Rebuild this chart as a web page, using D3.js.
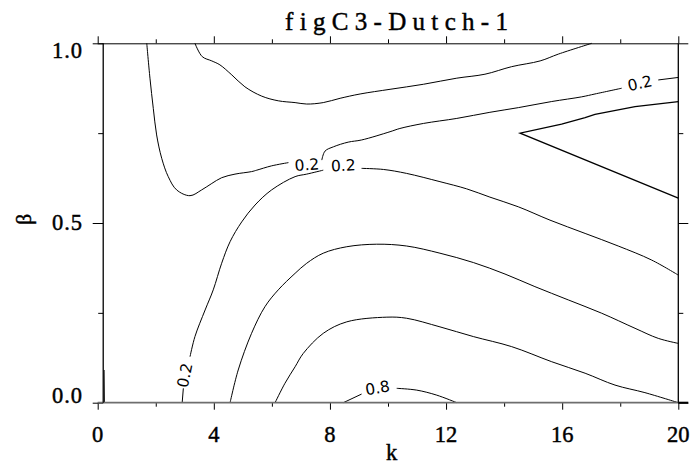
<!DOCTYPE html>
<html>
<head>
<meta charset="utf-8">
<script src="https://cdn.jsdelivr.net/npm/d3@7/dist/d3.min.js"></script>
<style>
  body { margin: 0; background: #fff; }
  svg { display: block; }
  text { font-variant-ligatures: none; }
  .serif { font-family: 'Liberation Serif'; stroke: #000; stroke-width: 0.45px; }
</style>
</head>
<body>
<svg id="chart" width="693" height="474"></svg>
<script>
// ---- axis ticks and labels ----
const kTicksMajor = [0, 4, 8, 12, 16, 20];
const kTicksMinor = [2, 6, 10, 14, 18];
const kTickLabels = ["0", "4", "8", "12", "16", "20"];
const betaTicksMajor = [0, 0.5, 1.0];
const betaTicksMinor = [0.25, 0.75];
const betaTickLabels = ["0.0", "0.5", "1.0"];
const kFrame = 0.19;            // left edge of the computed grid in k

// ---- contour polylines, points are [k, beta] ----
const contourA1 = [[1.69,1.0],[1.80,0.903],[1.915,0.819],[2.03,0.745],[2.205,0.680],[2.43,0.629],[2.72,0.592],[3.18,0.576],[3.58,0.592],[3.93,0.610],[4.27,0.626],[4.73,0.636],[5.30,0.643],[5.48,0.647],[5.99,0.659],[6.57,0.668]];
const contourA2 = [[7.72,0.675],[7.83,0.700],[8.12,0.712],[8.63,0.725],[9.09,0.731],[10.07,0.754],[10.41,0.763],[11.22,0.777],[12.37,0.791],[13.51,0.808],[14.49,0.821],[15.64,0.838],[16.67,0.851],[17.13,0.859],[18.05,0.875]];
const contourA3 = [[19.31,0.898],[20,0.905]];
const contourB  = [[3.35,1.0],[3.60,0.963],[3.93,0.951],[4.21,0.940],[4.62,0.912],[5.07,0.879],[5.65,0.853],[6.22,0.840],[6.80,0.835],[7.20,0.831],[7.77,0.835],[8.35,0.847],[9.04,0.859],[10.07,0.872],[11.22,0.886],[12.37,0.903],[13.34,0.914],[14.26,0.935],[15.24,0.951],[15.87,0.970],[17.02,1.0]];
const contourC1 = [[2.91,0],[2.95,0.040]];
const contourC2 = [[3.18,0.128],[3.35,0.184],[3.70,0.258],[3.98,0.314],[4.27,0.388],[4.56,0.448],[4.96,0.503],[5.42,0.550],[5.99,0.592],[6.80,0.629],[7.20,0.636],[7.77,0.647]];
const contourC3 = [[9.09,0.652],[9.84,0.649],[10.64,0.638],[11.79,0.615],[12.71,0.595],[13.51,0.572],[14.49,0.545],[15.58,0.508],[16.79,0.471],[17.93,0.436],[19.08,0.397],[20,0.355]];
const contourD  = [[20,0.838],[18.51,0.824],[17.13,0.802],[16.79,0.793],[15.98,0.775],[14.55,0.750],[20,0.569]];
const contourE  = [[4.56,0],[4.84,0.091],[5.30,0.193],[5.76,0.267],[6.22,0.314],[6.80,0.360],[7.20,0.388],[7.77,0.416],[8.58,0.434],[9.61,0.441],[10.64,0.436],[11.79,0.416],[12.94,0.390],[14.03,0.358],[15.06,0.323],[16.21,0.286],[17.36,0.249],[18.51,0.207],[19.31,0.179],[20,0.165]];
const contourF  = [[6.11,0],[6.45,0.054],[6.80,0.100],[7.08,0.137],[7.77,0.193],[8.58,0.225],[9.96,0.238],[10.64,0.235],[11.79,0.211],[12.94,0.184],[14.26,0.156],[15.64,0.114],[16.79,0.082],[17.82,0.049],[18.85,0.028],[20,0]];
const contourG1 = [[8.46,0],[9.09,0.024]];
const contourG2 = [[10.30,0.040],[10.99,0.035],[11.68,0.021],[12.37,0]];
const contourH  = [[0.23,0],[0.22,0.091]];

const smoothSegments = [contourA1, contourA2, contourA3, contourB, contourC1, contourC2, contourC3, contourE, contourF, contourG1, contourG2, contourH];
const sharpSegments = [contourD];

// level labels: text, anchor [k, beta], and the two pieces of line they sit between
const labelText   = ["0.2", "0.2", "0.2", "0.2", "0.8"];
const labelAnchor = [[7.21,0.661],[8.46,0.659],[18.68,0.888],[3.01,0.076],[9.64,0.040]];
const labelGap    = [[contourA1, contourA2],[contourC2, contourC3],[contourA2, contourA3],[contourC1, contourC2],[contourG1, contourG2]];

// ---- drawing ----
const svg = d3.select("#chart");
const x = d3.scaleLinear().domain([0, 20]).range([97.7, 678.3]);
const y = d3.scaleLinear().domain([0, 1]).range([402.7, 43.3]);

// title
svg.append("text").attr("class", "serif")
  .attr("x", 285).attr("y", 30)
  .attr("textLength", 223).attr("lengthAdjust", "spacing")
  .style("font-size", "25px")
  .text("figC3-Dutch-1");

// contour lines
const smoothLine = d3.line().x(d => x(d[0])).y(d => y(d[1])).curve(d3.curveCatmullRom.alpha(0.5));
const sharpLine = d3.line().x(d => x(d[0])).y(d => y(d[1]));
svg.append("g").selectAll("path").data(smoothSegments).join("path")
  .attr("d", smoothLine).attr("fill", "none").attr("stroke", "#000").attr("stroke-width", 1);
svg.append("g").selectAll("path").data(sharpSegments).join("path")
  .attr("d", sharpLine).attr("fill", "none").attr("stroke", "#000").attr("stroke-width", 1.3)
  .attr("stroke-linejoin", "miter");

// contour labels, oriented along the gap they fill
svg.append("g").selectAll("text").data(labelText).join("text")
  .attr("transform", (t, i) => {
    const a = labelGap[i][0][labelGap[i][0].length - 1];
    const b = labelGap[i][1][0];
    const ang = Math.atan2(y(b[1]) - y(a[1]), x(b[0]) - x(a[0])) * 180 / Math.PI;
    return `translate(${x(labelAnchor[i][0])},${y(labelAnchor[i][1])}) rotate(${ang})`;
  })
  .attr("text-anchor", "middle").attr("dominant-baseline", "central")
  .style("font-family", "'DejaVu Sans'").style("font-size", "15.5px")
  .text(t => t);

// axis ticks
function ticks(gen, vals, size) {
  return g => g.call(gen.tickValues(vals).tickSize(size).tickFormat(""))
               .call(s => s.select(".domain").remove());
}
const xl = x(kFrame);
svg.append("g").attr("transform", `translate(0,${y(0)})`).call(ticks(d3.axisBottom(x), kTicksMajor, 7));
svg.append("g").attr("transform", `translate(0,${y(0)})`).call(ticks(d3.axisBottom(x), kTicksMinor, 4));
svg.append("g").attr("transform", `translate(0,${y(1)})`).call(ticks(d3.axisTop(x), kTicksMajor, 7));
svg.append("g").attr("transform", `translate(0,${y(1)})`).call(ticks(d3.axisTop(x), kTicksMinor, 4));
svg.append("g").attr("transform", `translate(${xl},0)`).call(ticks(d3.axisLeft(y), betaTicksMajor, 10.5));
svg.append("g").attr("transform", `translate(${xl},0)`).call(ticks(d3.axisLeft(y), betaTicksMinor, 5));
svg.append("g").attr("transform", `translate(${x(20)},0)`).call(ticks(d3.axisRight(y), betaTicksMajor, 10));
svg.append("g").attr("transform", `translate(${x(20)},0)`).call(ticks(d3.axisRight(y), betaTicksMinor, 5));
svg.selectAll(".tick line").attr("stroke", "#000");

// frame lines
const frame = svg.append("g").attr("stroke", "#000").attr("stroke-width", 1);
frame.append("line").attr("x1", x(0)).attr("x2", x(20)).attr("y1", y(1) + 0.5).attr("y2", y(1) + 0.5);
frame.append("line").attr("x1", x(0)).attr("x2", x(20)).attr("y1", y(0)).attr("y2", y(0))
  .attr("stroke", "#6e6e6e").attr("stroke-width", 1.8);
frame.append("line").attr("x1", xl).attr("x2", xl).attr("y1", y(1)).attr("y2", y(0)).attr("stroke-width", 1.3);
frame.append("line").attr("x1", x(20)).attr("x2", x(20)).attr("y1", y(1)).attr("y2", y(0)).attr("stroke-width", 1.3);
frame.append("line").attr("x1", x(20)).attr("x2", x(20) + 10).attr("y1", y(0)).attr("y2", y(0)).attr("stroke-width", 2);

// tick labels
svg.append("g").selectAll("text").data(kTicksMajor).join("text").attr("class", "serif")
  .attr("x", d => x(d)).attr("y", 441.5).attr("text-anchor", "middle")
  .style("font-size", "22.5px")
  .text((d, i) => kTickLabels[i]);
const labelH = 14.8;
svg.append("g").selectAll("text").data(betaTicksMajor).join("text").attr("class", "serif")
  .attr("x", 83)
  .attr("y", d => Math.max(y(1) + labelH / 2, Math.min(y(0) - labelH / 2, y(d))) + labelH / 2)
  .attr("text-anchor", "end")
  .style("font-size", "22.5px").style("letter-spacing", "1px")
  .text((d, i) => betaTickLabels[i]);

// axis titles
svg.append("text").attr("class", "serif").attr("x", 391.5).attr("y", 460).attr("text-anchor", "middle")
  .style("font-size", "22.5px").text("k");
svg.append("text").attr("class", "serif").attr("transform", "translate(30.5,219.5) rotate(-90)").attr("text-anchor", "middle")
  .style("font-size", "22px").text("β");
</script>
</body>
</html>
